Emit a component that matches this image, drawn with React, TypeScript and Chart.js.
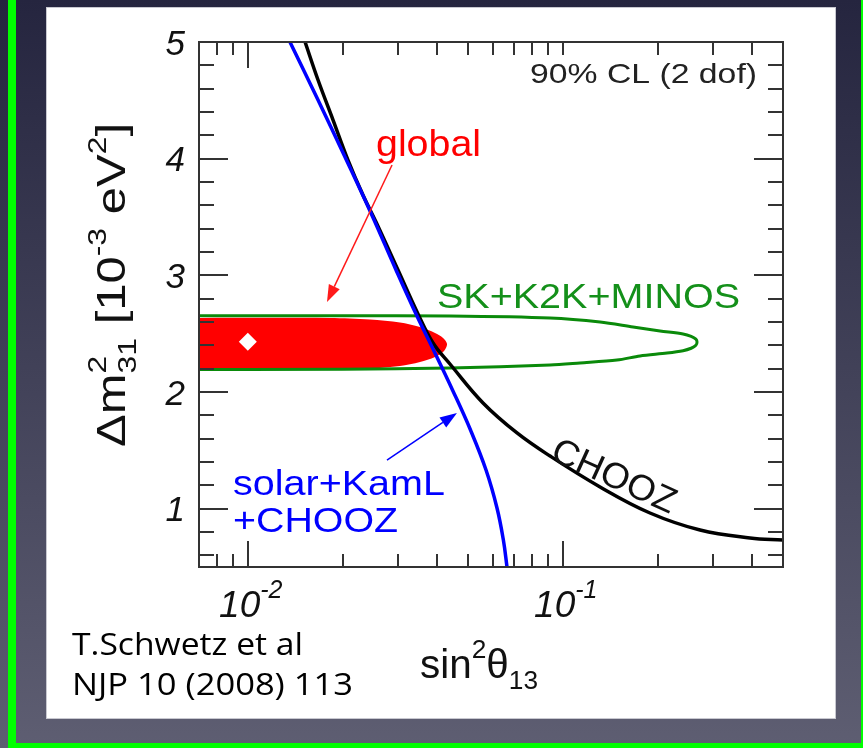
import React, { useEffect, useRef } from "react";
import { Chart, registerables } from "chart.js";

Chart.register(...registerables);

// CHOOZ reactor bound (90% CL, 2 dof)
const choozX = [0.0152, 0.01671, 0.01865, 0.0208, 0.0232, 0.02553, 0.02998, 0.0347, 0.03873, 0.04383, 0.05581, 0.07155, 0.0911, 0.1313, 0.1891, 0.2727, 0.3928, 0.5];
const choozY = [5.0, 4.674, 4.331, 3.988, 3.688, 3.457, 3.046, 2.669, 2.42, 2.24, 1.906, 1.649, 1.451, 1.186, 0.963, 0.817, 0.749, 0.731];

// solar + KamLAND + CHOOZ combined bound
const solarX = [0.01361, 0.01671, 0.02035, 0.0246, 0.02955, 0.03444, 0.03845, 0.0448, 0.05093, 0.05705, 0.06181, 0.06476, 0.0665];
const solarY = [5.0, 4.503, 4.014, 3.534, 3.046, 2.651, 2.386, 2.009, 1.674, 1.331, 1.006, 0.731, 0.5];

// SK + K2K + MINOS contour (upper edge out to the tip, then lower edge back)
const atmX = [0.005, 0.02, 0.04383, 0.0911, 0.1313, 0.1671, 0.2035, 0.2408, 0.2555, 0.2645, 0.2667, 0.2645, 0.2555, 0.2408, 0.2142, 0.1758, 0.1486, 0.1134, 0.0911, 0.04383, 0.02, 0.005];
const atmY = [2.653, 2.653, 2.651, 2.634, 2.6, 2.557, 2.523, 2.497, 2.477, 2.453, 2.429, 2.4, 2.375, 2.354, 2.334, 2.309, 2.274, 2.249, 2.231, 2.206, 2.196, 2.193];

// global fit region
const globalX = [0.005, 0.01824, 0.02443, 0.03041, 0.03521, 0.0393, 0.04167, 0.0429, 0.04197, 0.0393, 0.03521, 0.03041, 0.02443, 0.01824, 0.005];
const globalY = [2.634, 2.634, 2.621, 2.596, 2.557, 2.506, 2.463, 2.411, 2.351, 2.3, 2.257, 2.223, 2.201, 2.197, 2.197];

// best-fit point
const bestFitX = [0.01];
const bestFitY = [2.43];

// pointer arrows: tail -> head
const globalArrowX = [0.0287, 0.01784];
const globalArrowY = [3.946, 2.771];
const solarArrowX = [0.02766, 0.04613];
const solarArrowY = [1.417, 1.82];

// axis ticks
const yMajorTicks = [1, 2, 3, 4, 5];
const yTickLabels = ["1", "2", "3", "4", "5"];
const xMajorTicks = [0.01, 0.1];
const xTickExponents = ["-2", "-1"];

const SANS = '"Liberation Sans", Arial, Helvetica, sans-serif';
const NOTE = '"Open Sans", "Noto Sans", sans-serif';

const pts = (xs: number[], ys: number[]) => xs.map((x, i) => ({ x, y: ys[i] }));

type Seg = { t: string; size: number; dy?: number; italic?: boolean; hold?: boolean };

function segFont(s: Seg, family: string) {
  return `${s.italic ? "italic " : ""}${s.size}px ${family}`;
}

function richWidth(ctx: CanvasRenderingContext2D, segs: Seg[], family: string) {
  let w = 0;
  for (const s of segs) {
    ctx.font = segFont(s, family);
    if (!s.hold) w += ctx.measureText(s.t).width;
  }
  return w;
}

function drawRich(
  ctx: CanvasRenderingContext2D,
  segs: Seg[],
  x: number,
  y: number,
  o: { align?: "left" | "center" | "right"; width?: number; angle?: number; color: string; family?: string }
) {
  const family = o.family || SANS;
  const w = richWidth(ctx, segs, family);
  const sx = o.width ? o.width / w : 1;
  ctx.save();
  ctx.translate(x, y);
  if (o.angle) ctx.rotate(o.angle);
  ctx.scale(sx, 1);
  ctx.fillStyle = o.color;
  ctx.textBaseline = "alphabetic";
  ctx.textAlign = "left";
  let cx = o.align === "center" ? -w / 2 : o.align === "right" ? -w : 0;
  for (const s of segs) {
    ctx.font = segFont(s, family);
    ctx.fillText(s.t, cx, s.dy || 0);
    if (!s.hold) cx += ctx.measureText(s.t).width;
  }
  ctx.restore();
}

function arrow(ctx: CanvasRenderingContext2D, x0: number, y0: number, x1: number, y1: number, color: string) {
  const a = Math.atan2(y1 - y0, x1 - x0);
  const len = 17;
  const half = 6;
  const bx = x1 - len * Math.cos(a);
  const by = y1 - len * Math.sin(a);
  ctx.save();
  ctx.strokeStyle = color;
  ctx.fillStyle = color;
  ctx.lineWidth = 1.5;
  ctx.beginPath();
  ctx.moveTo(x0, y0);
  ctx.lineTo(bx, by);
  ctx.stroke();
  ctx.beginPath();
  ctx.moveTo(x1, y1);
  ctx.lineTo(bx + half * Math.sin(a), by - half * Math.cos(a));
  ctx.lineTo(bx - half * Math.sin(a), by + half * Math.cos(a));
  ctx.closePath();
  ctx.fill();
  ctx.restore();
}

const slide = {
  id: "slide",
  beforeDraw(chart: any) {
    const { ctx, width, height } = chart;
    ctx.save();
    const g = ctx.createLinearGradient(0, 0, 0, height);
    g.addColorStop(0, "#25253f");
    g.addColorStop(1, "#5e5e72");
    ctx.fillStyle = g;
    ctx.fillRect(0, 0, width, height);
    ctx.strokeStyle = "#00ff00";
    ctx.lineWidth = 8;
    ctx.strokeRect(12, -20, 853, 767);
    ctx.fillStyle = "#ffffff";
    ctx.fillRect(46, 7, 790, 712);
    ctx.strokeStyle = "#c8c8d0";
    ctx.lineWidth = 1;
    ctx.strokeRect(46.5, 7.5, 789, 711);
    ctx.restore();
  },
  afterDatasetsDraw(chart: any) {
    const { ctx, chartArea: a } = chart;
    const xs = chart.scales.x;
    const ys = chart.scales.y;
    const px = (v: number) => xs.getPixelForValue(v);
    const py = (v: number) => ys.getPixelForValue(v);

    // arrows
    arrow(ctx, px(globalArrowX[0]), py(globalArrowY[0]), px(globalArrowX[1]), py(globalArrowY[1]), "#ff1a1a");
    arrow(ctx, px(solarArrowX[0]), py(solarArrowY[0]), px(solarArrowX[1]), py(solarArrowY[1]), "#0000ff");

    // frame and ticks on all four sides
    ctx.save();
    ctx.strokeStyle = "#333333";
    ctx.lineWidth = 2;
    ctx.beginPath();
    for (let k = 6; k <= 48; k += 2) {
      const v = k / 10;
      const y = Math.round(py(v));
      const l = k % 10 === 0 ? 29 : 15;
      ctx.moveTo(a.left, y);
      ctx.lineTo(a.left + l, y);
      ctx.moveTo(a.right, y);
      ctx.lineTo(a.right - l, y);
    }
    for (const dec of [0.001, 0.01, 0.1]) {
      for (let m = 1; m <= 9; m++) {
        const v = dec * m;
        if (v <= 0.007 + 1e-9 || v >= 0.5 - 1e-9) continue;
        const x = Math.round(px(v));
        const l = m === 1 ? 26 : 13;
        ctx.moveTo(x, a.bottom);
        ctx.lineTo(x, a.bottom - l);
        ctx.moveTo(x, a.top);
        ctx.lineTo(x, a.top + l);
      }
    }
    ctx.stroke();
    ctx.strokeRect(a.left, a.top, a.right - a.left, a.bottom - a.top);
    ctx.restore();

    // tick labels
    yMajorTicks.forEach((v, i) => {
      drawRich(ctx, [{ t: yTickLabels[i], size: 35, italic: true }], 185, py(v) + 12.5, { align: "right", color: "#111" });
    });
    xMajorTicks.forEach((v, i) => {
      drawRich(
        ctx,
        [
          { t: "10", size: 37, italic: true },
          { t: xTickExponents[i], size: 25, italic: true, dy: -19 },
        ],
        px(v) + 3,
        617,
        { align: "center", color: "#111" }
      );
    });

    // axis titles
    drawRich(
      ctx,
      [
        { t: "sin", size: 40 },
        { t: "2", size: 26, dy: -20 },
        { t: "θ", size: 40 },
        { t: "13", size: 26, dy: 11 },
      ],
      420,
      678,
      { align: "left", width: 118, color: "#111" }
    );
    drawRich(
      ctx,
      [
        { t: "Δm", size: 40 },
        { t: "2", size: 26, dy: -19, hold: true },
        { t: "31", size: 26, dy: 11 },
        { t: " [10", size: 40 },
        { t: "-3", size: 26, dy: -19 },
        { t: " eV", size: 40 },
        { t: "2", size: 26, dy: -19 },
        { t: "]", size: 40 },
      ],
      125,
      285,
      { align: "center", width: 324, angle: -Math.PI / 2, color: "#111" }
    );

    // confidence level note
    ctx.save();
    ctx.fillStyle = "#ffffff";
    ctx.fillRect(528, 55, 232, 36);
    ctx.restore();
    drawRich(ctx, [{ t: "90% CL (2 dof)", size: 28 }], 530, 83, { width: 227, color: "#222" });

    // curve labels
    drawRich(ctx, [{ t: "global", size: 37 }], 376, 156, { width: 105, color: "#ff0000" });
    drawRich(ctx, [{ t: "SK+K2K+MINOS", size: 35 }], 437, 308, { width: 303, color: "#14901a" });
    drawRich(ctx, [{ t: "solar+KamL", size: 35 }], 233, 495, { width: 212, color: "#0000ff" });
    drawRich(ctx, [{ t: "+CHOOZ", size: 35 }], 233, 532, { width: 165, color: "#0000ff" });
    drawRich(ctx, [{ t: "CHOOZ", size: 36 }], 549, 459, { width: 133, angle: 0.427, color: "#111" });

    // reference
    drawRich(ctx, [{ t: "T.Schwetz et al", size: 31 }], 72, 655, { width: 231, color: "#000", family: NOTE });
    drawRich(ctx, [{ t: "NJP 10 (2008) 113", size: 31 }], 72, 695, { width: 281, color: "#000", family: NOTE });
  },
};

export default function App() {
  const ref = useRef<HTMLCanvasElement | null>(null);

  useEffect(() => {
    const canvas = ref.current;
    if (!canvas) return;
    const chart = new Chart(canvas, {
      type: "line",
      data: {
        datasets: [
          {
            label: "best fit",
            data: pts(bestFitX, bestFitY),
            showLine: false,
            pointStyle: "rectRot",
            pointRadius: 9,
            pointBackgroundColor: "#ffffff",
            pointBorderColor: "#ffffff",
            pointBorderWidth: 0,
          },
          {
            label: "solar+KamL+CHOOZ",
            data: pts(solarX, solarY),
            borderColor: "#0000ff",
            borderWidth: 3.5,
            pointRadius: 0,
            tension: 0.4,
            fill: false,
            clip: 0,
          },
          {
            label: "CHOOZ",
            data: pts(choozX, choozY),
            borderColor: "#000000",
            borderWidth: 3.5,
            pointRadius: 0,
            tension: 0.4,
            fill: false,
            clip: 0,
          },
          {
            label: "SK+K2K+MINOS",
            data: pts(atmX, atmY),
            borderColor: "#0a8a0a",
            borderWidth: 3,
            pointRadius: 0,
            tension: 0.3,
            fill: false,
            clip: 0,
          },
          {
            label: "global",
            data: pts(globalX, globalY),
            borderColor: "rgba(0,0,0,0)",
            borderWidth: 0,
            backgroundColor: "#ff0000",
            pointRadius: 0,
            tension: 0.3,
            fill: "shape",
            clip: 0,
          },
        ],
      },
      options: {
        animation: false,
        responsive: false,
        devicePixelRatio: 1,
        events: [],
        layout: { padding: { left: 199, top: 42, right: 80, bottom: 181 } },
        plugins: { legend: { display: false }, tooltip: { enabled: false } },
        scales: {
          x: { type: "logarithmic", min: 0.007, max: 0.5, display: false },
          y: { type: "linear", min: 0.5, max: 5, display: false },
        },
      },
      plugins: [slide],
    } as any);
    return () => chart.destroy();
  }, []);

  return (
    <div style={{ position: "fixed", left: 0, top: 0, width: 863, height: 748 }}>
      <canvas ref={ref} width={863} height={748} style={{ display: "block", width: 863, height: 748 }} />
    </div>
  );
}
